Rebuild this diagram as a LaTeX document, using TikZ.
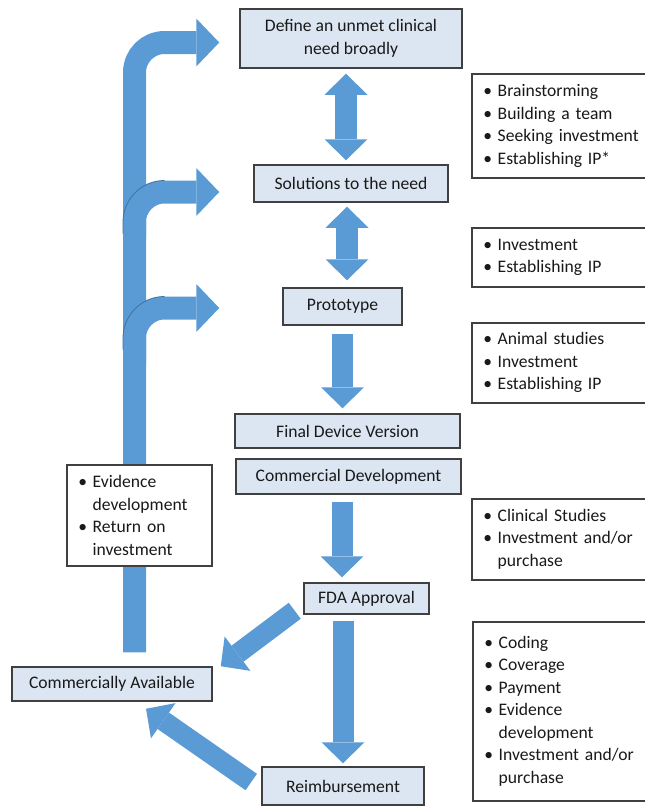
\documentclass[tikz,border=0pt]{standalone}
\usepackage{fontspec}
\setmainfont{Carlito}
\usetikzlibrary{arrows.meta,calc}

\definecolor{arrowblue}{RGB}{91,155,213}
\definecolor{edgeblue}{RGB}{65,113,156}
\definecolor{boxblue}{RGB}{220,230,242}
\definecolor{boxline}{RGB}{64,64,64}
\newcommand{\boxfont}{\fontsize{17.6}{22.5}\selectfont}
\newcommand{\bitem}[1]{\textbullet\hspace{5.6pt}#1}
\newcommand{\bcont}[1]{\hphantom{\textbullet\hspace{5.6pt}}#1}

\begin{document}
\begin{tikzpicture}[x=1pt,y=-1pt,
		stage/.style={draw=boxline,line width=1.5pt,fill=boxblue,inner sep=0pt,font=\boxfont,text=black!90},
		note/.style={draw=boxline,line width=1.5pt,fill=white,anchor=north west,align=left,inner xsep=11.6pt,inner ysep=0pt,font=\boxfont,text=black!90},
		blockarrow/.style={color=arrowblue,line width=21pt,-{Triangle[width=43pt,length=21pt,line width=0pt]}},
		dblarrow/.style={color=arrowblue,line width=22pt,{Triangle[width=43pt,length=21pt,line width=0pt]}-{Triangle[width=43pt,length=21pt,line width=0pt]}},
		bendarrow/.style={color=arrowblue,line width=23pt,rounded corners=30pt,-{Triangle[width=48pt,length=23pt,line width=0pt]}},
		bendline/.style={draw=edgeblue,line width=0.8pt,rounded corners=41.5pt}]
		\useasboundingbox (0,0) rectangle (645,807);
		\clip (0,0) rectangle (645,807);
		\def\myShafts{sol/-34/8.5, proto/-63/1.5}

		\node[stage,minimum width=222pt,minimum height=59pt,align=center] (define) at (351,38.5) {Define an unmet clinical\\need broadly};
		\node[stage,minimum width=194pt,minimum height=37pt] (sol) at (351,183.5) {Solutions to the need};
		\node[stage,minimum width=119pt,minimum height=37pt] (proto) at (342.5,306.5) {Prototype};
		\node[stage,minimum width=225pt,minimum height=34pt] (final) at (347.5,431) {Final Device Version};
		\node[stage,minimum width=225pt,minimum height=35pt] (cdev) at (348.5,476.5) {Commercial Development};
		\node[stage,minimum width=125pt,minimum height=31pt] (fda) at (366.5,598.5) {FDA Approval};
		\node[stage,minimum width=200pt,minimum height=34pt] (comm) at (112,684) {Commercially Available};
		\node[stage,minimum width=162pt,minimum height=38pt] (reimb) at (343,786) {Reimbursement};

		\node[note,text width=165.8pt,minimum height=104pt] (needs) at (471,73) {\bitem{Brainstorming}\\\bitem{Building a team}\\\bitem{Seeking investment}\\\bitem{Establishing IP*}};
		\node[note,text width=165.8pt,minimum height=59pt] (solnotes) at (471,227) {\bitem{Investment}\\\bitem{Establishing IP}};
		\node[note,text width=165.8pt,minimum height=80pt] (protonotes) at (471,322) {\bitem{Animal studies}\\\bitem{Investment}\\\bitem{Establishing IP}};
		\node[note,text width=165.8pt,minimum height=81pt] (fdanotes) at (471,498) {\bitem{Clinical Studies}\\\bitem{Investment and/or}\\\bcont{purchase}};
		\node[note,text width=164.8pt,minimum height=179pt] (reimbnotes) at (472,621) {\bitem{Coding}\\\bitem{Coverage}\\\bitem{Payment}\\\bitem{Evidence}\\\bcont{development}\\\bitem{Investment and/or}\\\bcont{purchase}};

		\draw[dblarrow,shorten <=5pt,shorten >=4pt] ([xshift=-5]define.south) -- ([xshift=-5]define.south |- sol.north);
		\draw[dblarrow,shorten <=4pt,shorten >=7pt] ([xshift=-4]sol.south) -- ([xshift=-4]sol.south |- proto.north);
		\draw[blockarrow,shorten <=8pt,shorten >=5pt] (proto.south) -- (proto.south |- final.north);
		\draw[blockarrow,shorten <=7pt,shorten >=5pt] ([xshift=-6.5]cdev.south) -- ([xshift=-6.5]cdev.south |- fda.north);
		\draw[blockarrow,shorten <=6pt,shorten >=3pt] (reimb.north |- fda.south) -- (reimb.north);
		\draw[blockarrow,line width=20pt] ([shift={(-8.5,-4)}]fda.south west) -- ([shift={(8,0)}]comm.north east);
		\draw[blockarrow,line width=20pt] ([shift={(-10,-4)}]reimb.west) -- ([shift={(34,7)}]comm.south);

		\coordinate (trunk) at ([shift={(22.5,-14)}]comm.north);
		\draw[bendarrow] (trunk) |- ([shift={(-20,4)}]define.west);
		\foreach \n/\dx/\dy in \myShafts {
			\draw[bendarrow] ($(trunk |- \n.west)+(0,55)$) |- ([shift={(\dx,\dy)}]\n.west);
			\draw[bendline] ($(trunk |- \n.west)+(-11.5,\dy+41.5)$) |- ($(trunk |- \n.west)+(30,\dy-11.5)$);
		}

		\node[note,text width=121.8pt,minimum height=101pt] (commnotes) at (66,464) {\bitem{Evidence}\\\bcont{development}\\\bitem{Return on}\\\bcont{investment}};
	\end{tikzpicture}
\end{document}
